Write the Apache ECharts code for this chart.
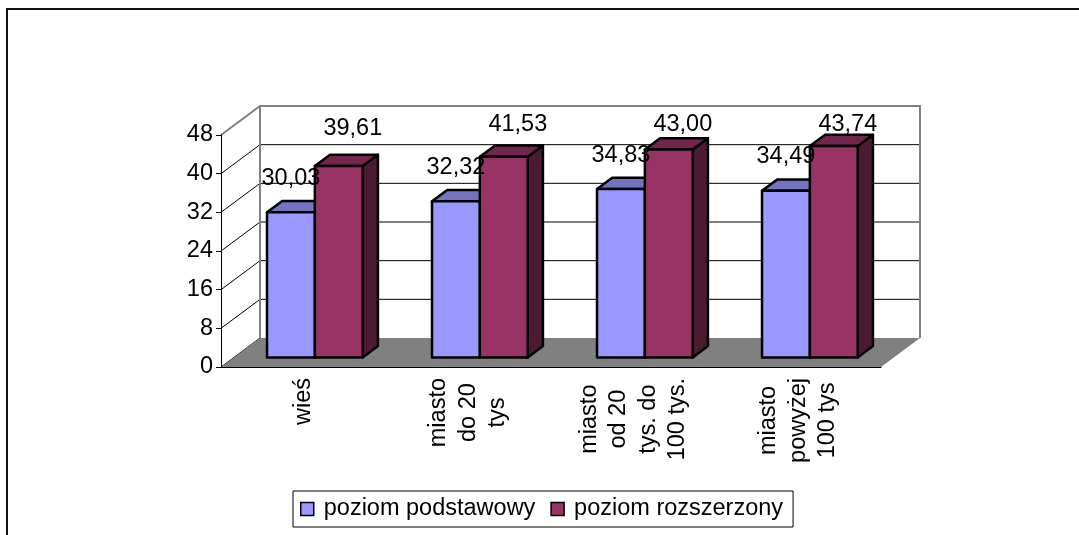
<!DOCTYPE html>
<html>
<head>
<meta charset="utf-8">
<script src="https://cdn.jsdelivr.net/npm/echarts@6/dist/echarts.min.js"></script>
<style>
  html, body { margin: 0; padding: 0; background: #fff; }
  #chart { width: 1079px; height: 535px; }
</style>
</head>
<body>
<div id="chart"></div>
<script>
const categories = ["wieś", "miasto\ndo 20\ntys", "miasto\nod 20\ntys. do\n100 tys.", "miasto\npowyżej\n100 tys"];
const seriesNames = ["poziom podstawowy", "poziom rozszerzony"];
const basicValues = [30.03, 32.32, 34.83, 34.49];
const extendedValues = [39.61, 41.53, 43.0, 43.74];
const yTicks = [0, 8, 16, 24, 32, 40, 48];

// 3D look: depth vector of the floor, bar slab between FRONT and BACK fractions
const DX = 39;
const DY = -29;
const FRONT = 0.33;
const BACK = 0.72;
const BAR_FRAC = 0.29;

const faceColors = [
  { front: "#9999ff", top: "#7373c0", side: "#5c5c99", labelGap: 34, labelDx: 0 },
  { front: "#993366", top: "#73264d", side: "#4d1a33", labelGap: 37, labelDx: 14 },
];

const fmt = (v) => v.toFixed(2).replace(".", ",");

function renderWalls(params, api) {
  const bw = api.size([1, 0])[0];
  const left = api.coord([0, 0])[0] - bw / 2;
  const right = api.coord([categories.length - 1, 0])[0] + bw / 2;
  const yOf = (v) => api.coord([0, v])[1];
  const y0 = yOf(yTicks[0]);
  const yTop = yOf(yTicks[yTicks.length - 1]);
  const children = [];

  children.push({
    type: "rect",
    shape: { x: left + DX, y: yTop + DY, width: right - left, height: y0 - yTop },
    style: { fill: "#ffffff" },
  });
  yTicks.forEach((t, i) => {
    const y = yOf(t);
    const last = i === yTicks.length - 1;
    if (i > 0 && !last) {
      children.push({
        type: "line",
        shape: { x1: left + DX, y1: y + DY, x2: right + DX, y2: y + DY },
        style: { stroke: "#000", lineWidth: 1 },
      });
    }
    children.push({
      type: "line",
      shape: { x1: left, y1: y, x2: left + DX, y2: y + DY },
      style: { stroke: last ? "#808080" : "#000", lineWidth: last ? 2 : 1 },
    });
  });
  children.push({
    type: "polyline",
    shape: {
      points: [
        [left + DX, y0 + DY],
        [left + DX, yTop + DY],
        [right + DX, yTop + DY],
        [right + DX, y0 + DY],
      ],
    },
    style: { stroke: "#808080", lineWidth: 2, fill: null },
  });
  children.push({
    type: "polygon",
    shape: {
      points: [
        [left, y0],
        [right, y0],
        [right + DX, y0 + DY],
        [left + DX, y0 + DY],
      ],
    },
    style: { fill: "#808080" },
  });
  return { type: "group", children };
}

function renderBar(params, api) {
  const s = params.seriesIndex - 1;
  const idx = api.value(0);
  const val = api.value(1);
  const base = api.coord([idx, 0]);
  const top = api.coord([idx, val]);
  const bw = api.size([1, 0])[0];
  const barW = bw * BAR_FRAC;
  const x0 = base[0] - 1.5 + (s === 0 ? -barW : 0);
  const x1 = x0 + barW;
  const fx = DX * FRONT, fy = DY * FRONT;
  const bx = DX * BACK, by = DY * BACK;
  const ty = top[1], yb = base[1];
  const c = faceColors[s];
  const stroke = { stroke: "#000", lineWidth: 2.5, lineJoin: "round" };
  const labelY = Math.max(ty + fy - c.labelGap, 125);
  const labelX = (x0 + x1) / 2 + fx + c.labelDx;
  return {
    type: "group",
    children: [
      {
        type: "polygon",
        shape: { points: [[x1 + fx, ty + fy], [x1 + bx, ty + by], [x1 + bx, yb + by], [x1 + fx, yb + fy]] },
        style: Object.assign({ fill: c.side }, stroke),
      },
      {
        type: "polygon",
        shape: { points: [[x0 + fx, ty + fy], [x1 + fx, ty + fy], [x1 + bx, ty + by], [x0 + bx, ty + by]] },
        style: Object.assign({ fill: c.top }, stroke),
      },
      {
        type: "rect",
        shape: { x: x0 + fx, y: ty + fy, width: barW, height: yb - ty },
        style: Object.assign({ fill: c.front }, stroke),
      },
      {
        type: "text",
        z2: 10,
        style: {
          x: labelX,
          y: labelY,
          text: fmt(val),
          fill: "#000",
          font: "23.5px 'Liberation Sans', Arial, sans-serif",
          align: "center",
          verticalAlign: "middle",
        },
      },
    ],
  };
}

const chart = echarts.init(document.getElementById("chart"));
chart.setOption({
  backgroundColor: "#ffffff",
  animation: false,
  textStyle: { fontFamily: "'Liberation Sans', Arial, sans-serif" },
  graphic: [
    {
      type: "rect",
      shape: { x: 7, y: 9, width: 1200, height: 800 },
      style: { fill: null, stroke: "#111", lineWidth: 2 },
      silent: true,
    },
  ],
  legend: {
    left: 293,
    top: 491,
    data: seriesNames,
    icon: "rect",
    itemWidth: 13,
    itemHeight: 13,
    itemGap: 15,
    padding: [6, 10, 6, 7],
    borderColor: "#000",
    borderWidth: 1,
    backgroundColor: "#fff",
    itemStyle: { borderColor: "#000", borderWidth: 1.5 },
    textStyle: { fontSize: 23.5, color: "#000", lineHeight: 22, padding: [0, 0, 0, 5] },
  },
  grid: { left: 221, top: 135, width: 660, height: 232 },
  xAxis: {
    type: "category",
    data: categories,
    z: 5,
    axisLine: { lineStyle: { color: "#000", width: 1 } },
    axisTick: { length: 7, lineStyle: { color: "#000" } },
    axisLabel: {
      interval: 0,
      rotate: 90,
      margin: 11,
      formatter: (v) => v.split("\n").map((l) => "{c|" + l + "}").join("\n"),
      rich: { c: { align: "center", fontSize: 23.5, lineHeight: 29.5, color: "#000" } },
    },
  },
  yAxis: {
    type: "value",
    min: 0,
    max: 48,
    interval: 8,
    z: 5,
    axisLine: { show: true, lineStyle: { color: "#000", width: 1 } },
    axisTick: { show: true, length: 5, lineStyle: { color: "#000" } },
    axisLabel: { fontSize: 23.5, color: "#000", margin: 8 },
    splitLine: { show: false },
  },
  series: [
    {
      type: "custom",
      name: "walls",
      z: 1,
      silent: true,
      renderItem: renderWalls,
      encode: { x: 0, y: 1 },
      data: [[0, 0]],
    },
    {
      type: "custom",
      name: seriesNames[0],
      z: 3,
      renderItem: renderBar,
      itemStyle: { color: faceColors[0].front },
      encode: { x: 0, y: 1 },
      data: basicValues.map((v, i) => [i, v]),
    },
    {
      type: "custom",
      name: seriesNames[1],
      z: 3,
      renderItem: renderBar,
      itemStyle: { color: faceColors[1].front },
      encode: { x: 0, y: 1 },
      data: extendedValues.map((v, i) => [i, v]),
    },
  ],
});
</script>
</body>
</html>
